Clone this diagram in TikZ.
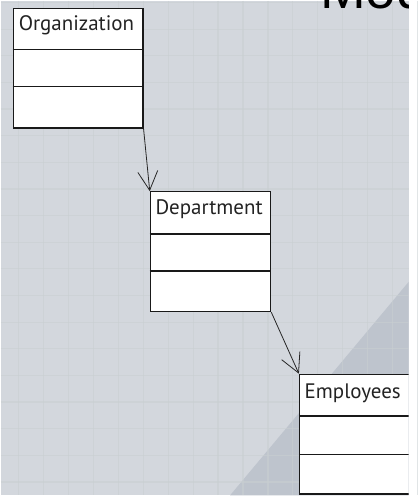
\documentclass[tikz,border=0pt]{standalone}
\usepackage{fontspec}
\usetikzlibrary{arrows.meta}
\newfontfamily\boxfont{PT Sans}
\newfontfamily\titlefont{Liberation Sans}
\definecolor{slidebg}{RGB}{211,215,221}
\definecolor{gridline}{RGB}{201,207,210}
\definecolor{shadebg}{RGB}{190,196,205}
\definecolor{classtext}{RGB}{35,35,35}
\definecolor{classedge}{RGB}{25,25,25}
\tikzset{
  classbox/.style={draw=classedge, fill=white, line width=1.3pt, inner sep=0pt,
    anchor=north west, minimum width=#1},
  classname/.style={anchor=base, inner sep=0pt, text=classtext,
    font=\boxfont\fontsize{21}{24}\selectfont},
  divider/.style={draw=classedge, line width=1.3pt},
  assoc/.style={draw=black!85, line width=0.8pt,
    -{Straight Barb[length=19pt,width=20pt,line width=0.8pt]}},
}
\begin{document}
\begin{tikzpicture}[x=1pt,y=-1pt]
  % slide background
  \fill[slidebg] (0,0) rectangle (409,496);
  \fill[shadebg] (409,282) -- (409,496) -- (230,496) -- cycle;
  \begin{scope}[gridline, line width=1.2pt, opacity=0.55]
    \foreach \gx in {18,43,...,418} \draw (\gx,0) -- (\gx,496);
    \foreach \gy in {1.9,28.6,...,500} \draw (0,\gy) -- (409,\gy);
  \end{scope}
  \clip (0,0) rectangle (409,496);

  % slide title, running off the top edge
  \node[anchor=base west, inner sep=0pt, font=\titlefont\fontsize{55}{60}\selectfont]
    (title) at (320,7.5) {Mod};

  % Organization
  \node[classbox=130pt, minimum height=120pt] (org) at (12,7) {};
  \draw[divider] (12,49) -- (142,49);
  \draw[divider] (12,86) -- (142,86);
  \node[classname] (orgname) at (76,30) {Organization};

  % Department
  \node[classbox=120.5pt, minimum height=120pt] (dept) at (149.5,191) {};
  \draw[divider] (149.5,234) -- (270,234);
  \draw[divider] (149.5,271) -- (270,271);
  \node[classname] (deptname) at (209,214.5) {Department};

  % Employees
  \node[classbox=112pt, minimum height=120pt] (emp) at (299,374) {};
  \draw[divider] (299,416.5) -- (411,416.5);
  \draw[divider] (299,455) -- (411,455);
  \node[classname] (empname) at (353,399) {Employees};

  % associations
  \draw[assoc] (org.south east) -- (dept.north west);
  \draw[assoc] (dept.south east) -- (emp.north west);
\end{tikzpicture}
\end{document}
